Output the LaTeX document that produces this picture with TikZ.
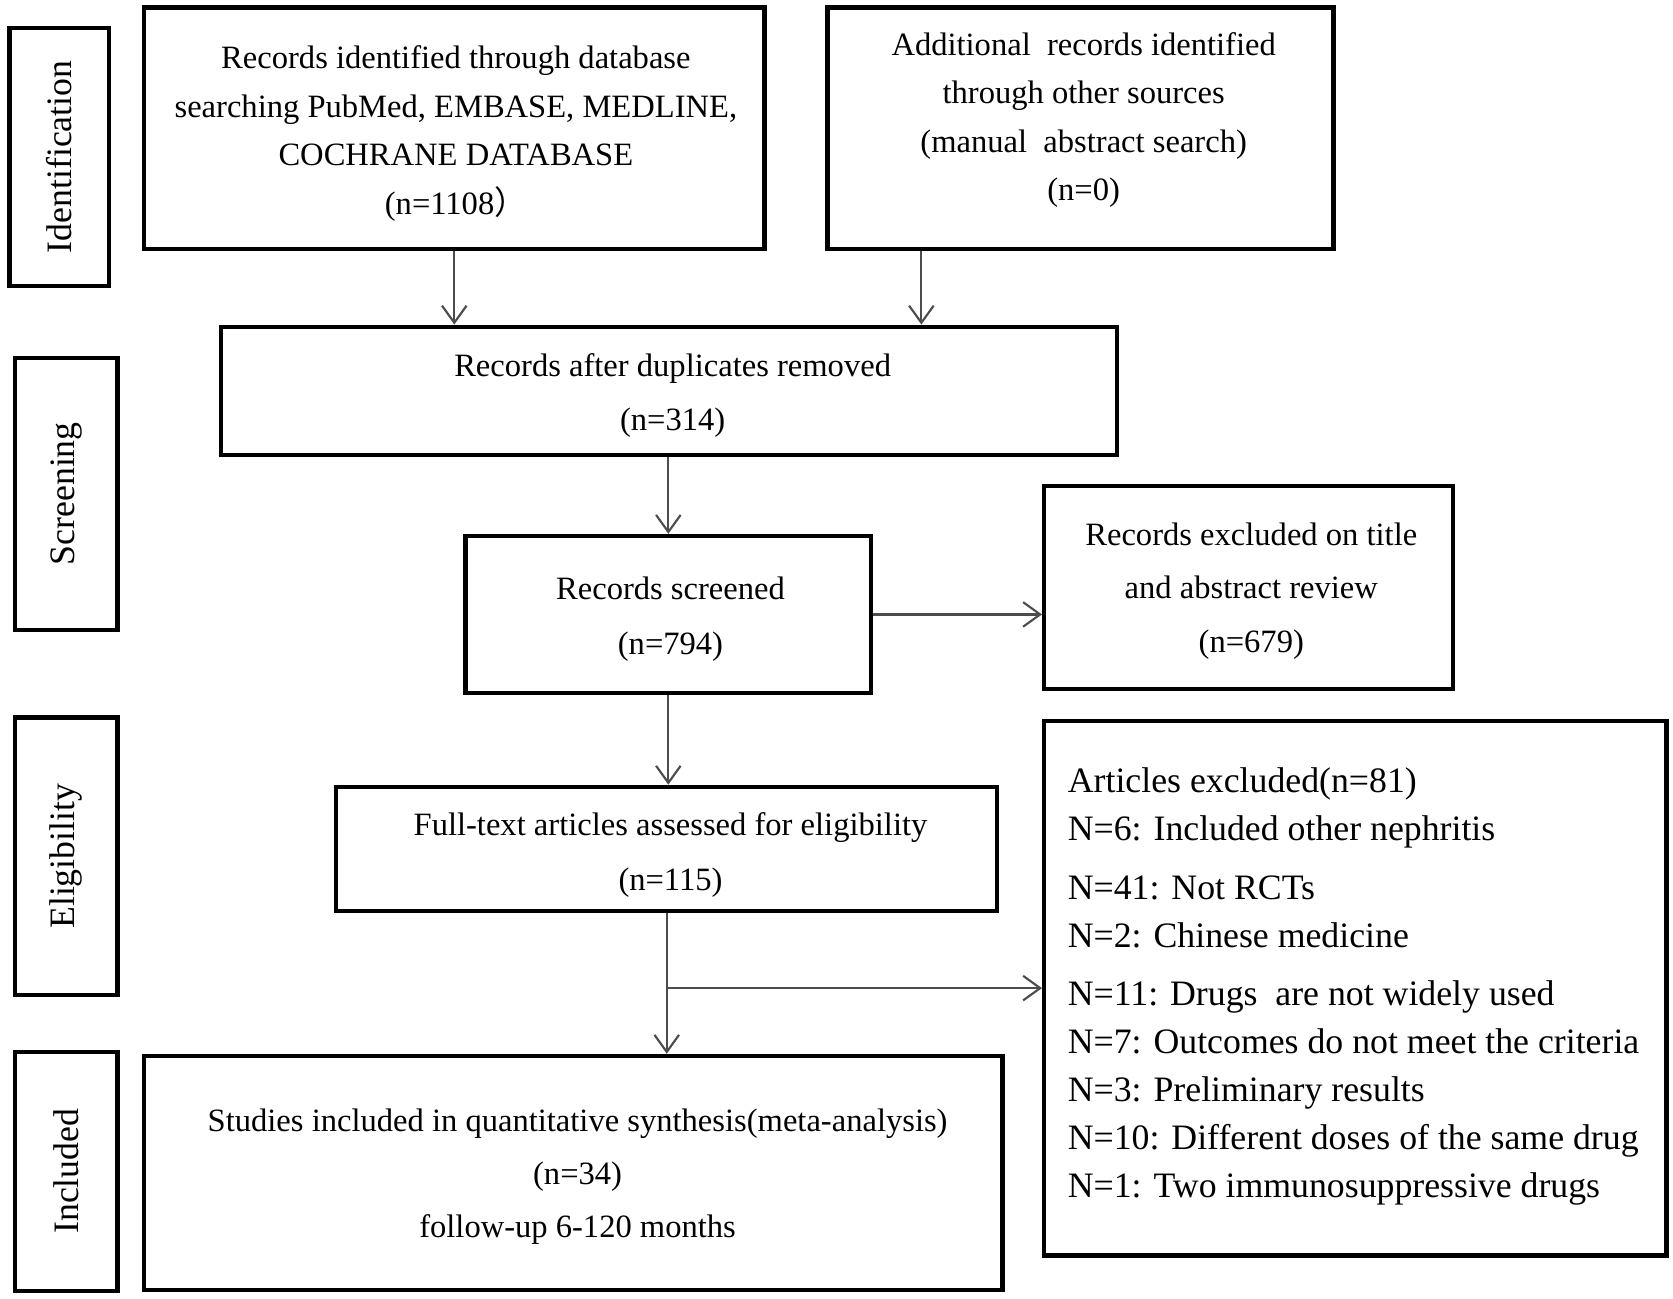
\documentclass[tikz,border=0pt]{standalone}
\usepackage{fontspec}
\setmainfont{Liberation Serif}
\newfontfamily\cjk{Noto Sans CJK SC}
\usetikzlibrary{arrows.meta}
\begin{document}
\begin{tikzpicture}[x=1pt,y=-1pt,
  box/.style={draw=black, line width=4pt, rectangle, inner sep=0pt},
  txt/.style={inner sep=0pt, align=center, font=\fontsize{30.5}{50}\selectfont},
  stage/.style={draw=black, line width=4pt, rectangle, inner sep=0pt, rotate=90,
    font=\fontsize{33.5}{40}\selectfont},
  arr/.style={draw=black!70, line width=2pt, -{Straight Barb[length=16pt,width=23pt]}}]
\useasboundingbox (0,0) rectangle (1567,1216);

% stage labels
\node[stage, minimum width=242, minimum height=93] (sId) at (55.5,147) {Identification};
\node[stage, minimum width=255, minimum height=96] (sScr) at (62,462.5) {Screening};
\node[stage, minimum width=260, minimum height=96] (sElig) at (62,802) {Eligibility};
\node[stage, minimum width=224, minimum height=96] (sInc) at (62,1097) {Included};

% main boxes
\node[box, minimum width=581, minimum height=226] (A) at (425.5,120) {};
\node[txt, font=\fontsize{30.5}{45.5}\selectfont] (At) at (427,125)
  {Records identified through database\\searching PubMed, EMBASE, MEDLINE,\\COCHRANE DATABASE\\(n=1108{\cjk ）}};
\node[box, minimum width=474, minimum height=226] (B) at (1012,120) {};
\node[txt, font=\fontsize{30.5}{45.5}\selectfont] (Bt) at (1015,112.5)
  {Additional\ \ records identified\\through other sources\\(manual\ \ abstract search)\\(n=0)};
\node[box, minimum width=839, minimum height=120] (C) at (626.5,366) {};
\node[txt] (Ct) at (630,370.5) {Records after duplicates removed\\(n=314)};
\node[box, minimum width=380, minimum height=147] (D) at (626,575.5) {};
\node[txt, font=\fontsize{30.5}{52}\selectfont] (Dt) at (628,580) {Records screened\\(n=794)};
\node[box, minimum width=383, minimum height=190] (E) at (1169.5,550) {};
\node[txt] (Et) at (1172,553.5) {Records excluded on title\\and abstract review\\(n=679)};
\node[box, minimum width=619, minimum height=116] (F) at (624.5,795) {};
\node[txt, font=\fontsize{30.5}{52}\selectfont] (Ft) at (628,801)
  {Full-text articles assessed for eligibility\\(n=115)};
\node[box, minimum width=804, minimum height=219] (G) at (537,1098.5) {};
\node[txt] (Gt) at (541,1102)
  {Studies included in quantitative synthesis(meta-analysis)\\(n=34)\\follow-up 6-120 months};
\node[box, minimum width=583, minimum height=501] (H) at (1269.5,925.5) {};
\node[txt, anchor=west, align=left, font=\fontsize{33.5}{45}\selectfont] (Ht) at (1000,924)
  {Articles excluded(n=81)\\
   N=6: Included other nephritis\\[10pt]
   N=41: Not RCTs\\
   N=2: Chinese medicine\\[9pt]
   N=11: Drugs\ \ are not widely used\\
   N=7: Outcomes do not meet the criteria\\
   N=3: Preliminary results\\
   N=10: Different doses of the same drug\\
   N=1: Two immunosuppressive drugs};

% connectors
\coordinate (b1) at ([xshift=90]B.south west);
\draw[arr] (A.south) -- (A.south |- C.north);
\draw[arr] (b1) -- (b1 |- C.north);
\draw[arr] (C.south -| D.north) -- (D.north);
\draw[arr] (D.east) -- (D.east -| E.west);
\draw[arr] (D.south) -- (D.south |- F.north);
\draw[arr] (F.south) -- (F.south |- G.north);
\coordinate (fj) at (F.south |- H.west);
\draw[arr] (fj) -- (H.west);
\end{tikzpicture}
\end{document}
